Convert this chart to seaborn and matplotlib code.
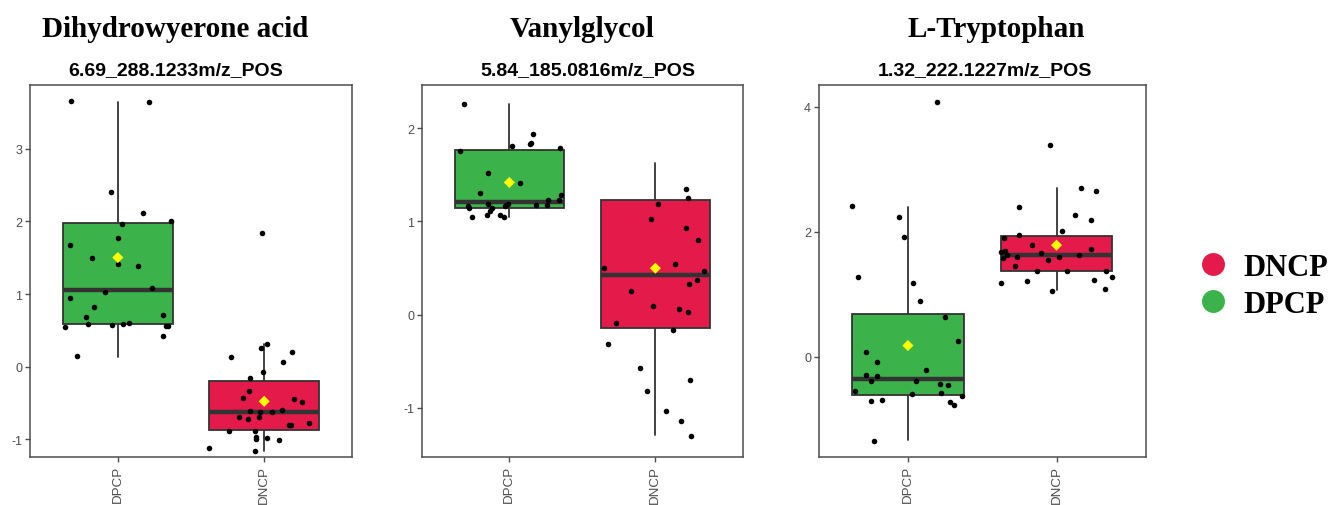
import numpy as np
import pandas as pd
import matplotlib
matplotlib.use("Agg")
import matplotlib.pyplot as plt
from matplotlib.lines import Line2D
import seaborn as sns

# ---------------- data ----------------
groups = ["DPCP", "DNCP"]
group_colors = {"DPCP": "#3BB34A", "DNCP": "#E41A4B"}

titles = ["Dihydrowyerone acid", "Vanylglycol", "L-Tryptophan"]
subtitles = ["6.69_288.1233m/z_POS", "5.84_185.0816m/z_POS", "1.32_222.1227m/z_POS"]

# Dihydrowyerone acid (scaled intensity)
dihydro_dpcp = [3.655, 3.65, 2.41, 2.11, 2.0, 1.97, 1.77, 1.67, 1.49, 1.42, 1.38,
                1.09, 1.03, 0.95, 0.82, 0.71, 0.69, 0.58, 0.556, 0.55, 0.60,
                0.556, 0.59, 0.59, 0.42, 0.14]
dihydro_dncp = [0.317, 0.198, 0.06, 0.262, 0.133, -0.074, -0.156, 1.84, -0.34,
                -0.49, -0.45, -0.43, -0.63, -0.694, -0.69, -0.72, -0.60, -0.61,
                -0.63, -0.81, -0.883, -0.78, -0.887, -0.81, -1.00, -0.975,
                -1.007, -0.984, -1.163, -1.126]
# box statistics: (lower whisker, Q1, median, Q3, upper whisker)
dihydro_box_dpcp = [0.138, 0.584, 1.057, 1.977, 3.65]
dihydro_box_dncp = [-1.163, -0.869, -0.625, -0.198, 0.317]
dihydro_means = [1.503, -0.478]

# Vanylglycol
vanyl_dpcp = [2.262, 1.935, 1.806, 1.842, 1.785, 1.828, 1.756, 1.516, 1.416,
              1.305, 1.28, 1.229, 1.229, 1.179, 1.176, 1.168, 1.183, 1.161,
              1.176, 1.186, 1.15, 1.143, 1.108, 1.068, 1.043, 1.065, 1.043]
vanyl_dncp = [1.348, 1.247, 1.186, 1.022, 0.932, 0.796, 0.538, 0.33, 0.473,
              0.495, 0.373, 0.258, 0.09, 0.029, 0.061, -0.086, -0.161, -0.319,
              -0.573, -0.699, -0.821, -1.039, -1.147, -1.305]
vanyl_box_dpcp = [1.043, 1.147, 1.208, 1.763, 2.262]
vanyl_box_dncp = [-1.297, -0.14, 0.427, 1.229, 1.627]
vanyl_means = [1.419, 0.498]

# L-Tryptophan
trp_dpcp = [4.075, 2.411, 2.235, 1.925, 1.275, 1.184, 0.891, 0.64, 0.251, 0.085,
            -0.08, -0.213, -0.283, -0.309, -0.389, -0.384, -0.437, -0.448,
            -0.549, -0.597, -0.576, -0.629, -0.688, -0.709, -0.725, -0.768,
            -1.339]
trp_dncp = [3.387, 2.704, 2.651, 2.4, 2.261, 2.181, 2.005, 1.947, 1.904, 1.797,
            1.723, 1.691, 1.675, 1.659, 1.627, 1.6, 1.589, 1.605, 1.627, 1.547,
            1.456, 1.381, 1.376, 1.381, 1.275, 1.216, 1.189, 1.237, 1.088, 1.061]
trp_box_dpcp = [-1.333, -0.603, -0.347, 0.693, 2.4]
trp_box_dncp = [1.072, 1.381, 1.632, 1.941, 2.699]
trp_means = [0.181, 1.787]

panel_points = [(dihydro_dpcp, dihydro_dncp), (vanyl_dpcp, vanyl_dncp), (trp_dpcp, trp_dncp)]
panel_boxes = [(dihydro_box_dpcp, dihydro_box_dncp), (vanyl_box_dpcp, vanyl_box_dncp),
               (trp_box_dpcp, trp_box_dncp)]
panel_means = [dihydro_means, vanyl_means, trp_means]
y_ticks = [[-1, 0, 1, 2, 3], [-1, 0, 1, 2], [0, 2, 4]]
y_limits = [(-1.245, 3.88), (-1.53, 2.466), (-1.6, 4.347)]

# ---------------- style ----------------
sns.set_style("white")
plt.rcParams["font.family"] = ["Liberation Sans", "DejaVu Sans"]
plt.rcParams["axes.unicode_minus"] = False

W, H = 1338, 506
fig = plt.figure(figsize=(W / 100, H / 100), dpi=100)

# axes rectangles in pixels: (left, right)
ax_px = [(30, 352), (421.7, 743), (818.7, 1145.7)]
top_px, bottom_px = 86, 458
title_x = [175, 581.7, 996.7]
subtitle_x = [176, 588.3, 984.5]

edge = "#333333"
axis_grey = "#4D4D4D"

np.random.seed(7)
for i in range(3):
    l, r = ax_px[i]
    ax = fig.add_axes([l / W, 1 - bottom_px / H, (r - l) / W, (bottom_px - top_px) / H])

    dpcp, dncp = panel_points[i]
    df = pd.DataFrame({
        "group": ["DPCP"] * len(dpcp) + ["DNCP"] * len(dncp),
        "value": list(dpcp) + list(dncp),
    })

    # boxes from the summary statistics
    stats = []
    for g, b in zip(groups, panel_boxes[i]):
        stats.append({"whislo": b[0], "q1": b[1], "med": b[2], "q3": b[3],
                      "whishi": b[4], "label": g})
    bp = ax.bxp(stats, positions=[0, 1], widths=0.75, patch_artist=True,
                showcaps=False, showfliers=False, manage_ticks=False,
                boxprops=dict(edgecolor=edge, linewidth=1.3),
                whiskerprops=dict(color=edge, linewidth=1.3),
                medianprops=dict(color=edge, linewidth=3.2, solid_capstyle="butt"))
    for patch, g in zip(bp["boxes"], groups):
        patch.set_facecolor(group_colors[g])
        patch.set_zorder(1)
    for w in bp["whiskers"]:
        w.set_zorder(0.9)
    for m in bp["medians"]:
        m.set_zorder(1.5)

    # jittered samples
    sns.stripplot(data=df, x="group", y="value", order=groups, jitter=0.38,
                  color="black", size=4.0, linewidth=0, ax=ax, zorder=3)

    # group means
    sns.scatterplot(x=[0, 1], y=panel_means[i], marker="D", color="#FFFF00",
                    s=32, edgecolor="none", ax=ax, zorder=4)

    ax.set_xlim(-0.6, 1.6)
    ax.set_ylim(*y_limits[i])
    ax.set_yticks(y_ticks[i])
    ax.set_xticks([0, 1])
    ax.set_xticklabels(groups, rotation=90)
    ax.set_xlabel("")
    ax.set_ylabel("")
    ax.tick_params(axis="both", colors=axis_grey, length=3.5, width=1.0,
                   pad=2, direction="out", bottom=True, left=True)
    ax.tick_params(axis="x", labelsize=9.6)
    ax.tick_params(axis="y", labelsize=9)
    for sp in ax.spines.values():
        sp.set_visible(True)
        sp.set_color(axis_grey)
        sp.set_linewidth(1.1)
    ax.grid(False)

    fig.text(title_x[i] / W, 1 - 36.7 / H, titles[i], ha="center", va="baseline",
             fontsize=21, fontweight="bold", color="black",
             family=["Liberation Serif", "DejaVu Serif"])
    fig.text(subtitle_x[i] / W, 1 - 75.5 / H, subtitles[i], ha="center", va="baseline",
             fontsize=14, fontweight="bold", color="black",
             family=["Liberation Sans", "DejaVu Sans"])

# legend
handles = [Line2D([], [], linestyle="none", marker="o", markersize=16.5,
                  markerfacecolor=group_colors[g], markeredgecolor="none")
           for g in ["DNCP", "DPCP"]]
leg = fig.legend(handles, ["DNCP", "DPCP"], loc="center left",
                 bbox_to_anchor=(1197.4 / W, 1 - 286.8 / H), frameon=False,
                 borderpad=0, borderaxespad=0, handlelength=1.0, handletextpad=0.5,
                 labelspacing=0.26,
                 prop={"family": "Liberation Serif", "weight": "bold", "size": 22})
for t in leg.get_texts():
    t.set_color("black")

fig.savefig("out.png", dpi=100)
